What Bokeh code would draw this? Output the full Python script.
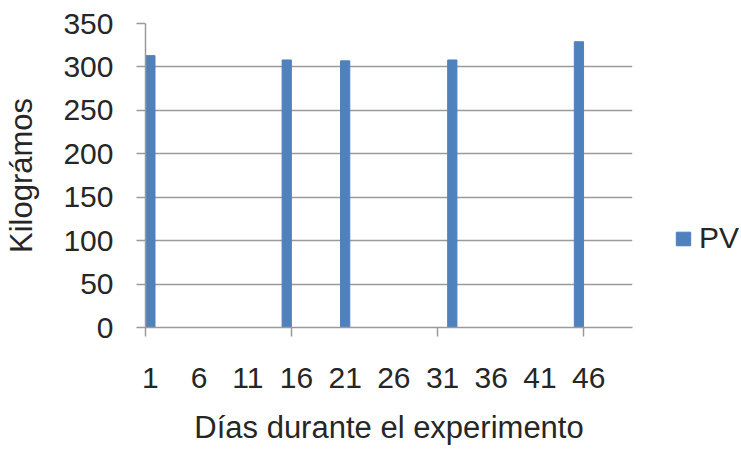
from bokeh.plotting import figure
from bokeh.layouts import row
from bokeh.models import FixedTicker, Legend, LegendItem, Range1d
from bokeh.embed import file_html
from bokeh.resources import INLINE

days = [1, 15, 21, 32, 45]
pv = [313, 308, 307, 308, 329]
x_tick_labels = [1, 6, 11, 16, 21, 26, 31, 36, 41, 46]
x_boundaries = [0.5, 15.5, 30.5, 45.5]
y_ticks = [0, 50, 100, 150, 200, 250, 300, 350]
series_name = "PV"
x_title = "Días durante el experimento"
y_title = "Kilográmos"

FONT = "Liberation Sans"
TXT = "#262626"
GRID = "#9a9a9a"
BLUE = "#4F81BD"

p = figure(width=650, height=449, output_backend="svg", toolbar_location=None,
           x_range=Range1d(0.5, 50.5), y_range=Range1d(0, 350),
           min_border_left=145, min_border_right=18, min_border_top=23, min_border_bottom=122)
p.outline_line_color = None
p.background_fill_color = "white"

r = p.vbar(x=days, top=pv, width=0.95, color=BLUE)

xa = p.xaxis[0]
xa.ticker = FixedTicker(ticks=x_tick_labels, minor_ticks=x_boundaries)
xa.major_tick_in = 0
xa.major_tick_out = 0
xa.minor_tick_in = 0
xa.minor_tick_out = 9
xa.minor_tick_line_color = GRID
xa.minor_tick_line_width = 1.5
xa.axis_line_color = GRID
xa.axis_line_width = 1.5
xa.major_label_text_font = FONT
xa.major_label_text_font_size = "30px"
xa.major_label_text_color = TXT
xa.major_label_standoff = 31
xa.axis_label = x_title
xa.axis_label_text_font = FONT
xa.axis_label_text_font_size = "31px"
xa.axis_label_text_font_style = "normal"
xa.axis_label_text_color = TXT
xa.axis_label_standoff = 19

ya = p.yaxis[0]
ya.ticker = FixedTicker(ticks=y_ticks)
ya.major_tick_in = 0
ya.major_tick_out = 9
ya.major_tick_line_color = GRID
ya.major_tick_line_width = 1.5
ya.minor_tick_line_color = None
ya.axis_line_color = GRID
ya.axis_line_width = 1.5
ya.major_label_text_font = FONT
ya.major_label_text_font_size = "30px"
ya.major_label_text_color = TXT
ya.major_label_standoff = 23
ya.axis_label = y_title
ya.axis_label_text_font = FONT
ya.axis_label_text_font_size = "31px"
ya.axis_label_text_font_style = "normal"
ya.axis_label_text_color = TXT
ya.axis_label_standoff = 21

p.xgrid.grid_line_color = None
p.ygrid.ticker = FixedTicker(ticks=y_ticks)
p.ygrid.grid_line_color = GRID
p.ygrid.grid_line_width = 1.5

# legend panel to the right of the chart (its renderer is hidden; the legend still shows its swatch)
lp = figure(width=91, height=449, output_backend="svg", toolbar_location=None,
            x_range=Range1d(0, 1), y_range=Range1d(0, 1),
            x_axis_location=None, y_axis_location=None,
            min_border_left=0, min_border_right=0, min_border_top=0, min_border_bottom=0)
lp.outline_line_color = None
lp.xgrid.grid_line_color = None
lp.ygrid.grid_line_color = None
lr = lp.vbar(x=days, top=pv, width=0.95, color=BLUE, visible=False)
legend = Legend(items=[LegendItem(label=series_name, renderers=[lr])],
                location=(24, 72), border_line_color=None, background_fill_alpha=0,
                padding=0, margin=0, glyph_width=18, glyph_height=17, label_standoff=7,
                label_text_font=FONT, label_text_font_size="30px", label_text_color=TXT)
lp.add_layout(legend, "center")

layout = row(p, lp, spacing=0)
open("out.html", "w").write(file_html(layout, INLINE))
